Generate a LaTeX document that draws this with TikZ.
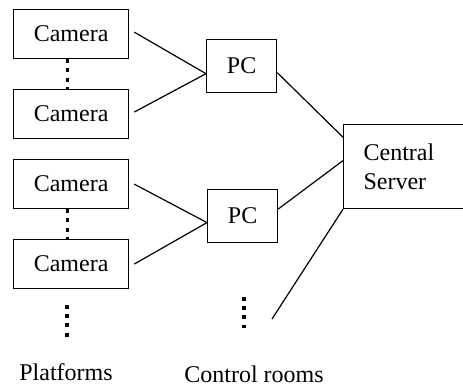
\documentclass[tikz,border=0pt]{standalone}
\usepackage{fontspec}
\setmainfont{Liberation Serif}
\usetikzlibrary{calc}
\begin{document}
\begin{tikzpicture}[x=0.5pt,y=-0.5pt,
  every node/.style={font=\fontsize{12}{14.5}\selectfont},
  cambox/.style={draw,line width=0.6pt,minimum width=57.5pt,minimum height=24.5pt,inner sep=0pt},
  pcbox/.style={draw,line width=0.6pt,minimum width=35pt,minimum height=26.5pt,inner sep=0pt},
  link/.style={line width=0.6pt},
  dotsline/.style={line width=1.6pt,dash pattern=on 2pt off 2.6pt}]
\useasboundingbox (0,0) rectangle (463,385);
\clip (0,0) rectangle (463,385);
\node[cambox,anchor=north west] (cam1) at (13,9) {Camera};
\node[cambox,anchor=north west] (cam2) at (13,89) {Camera};
\node[cambox,anchor=north west] (cam3) at (13,159) {Camera};
\node[cambox,anchor=north west] (cam4) at (13,239) {Camera};
\node[pcbox,anchor=north west] (pc1) at (206,39) {PC};
\node[pcbox,anchor=north west] (pc2) at (207,189) {PC};
\node[draw,line width=0.6pt,anchor=north west,minimum height=42pt,
  text width=50pt,inner xsep=10pt,inner ysep=0pt,align=left] (server) at (343,124) {Central\\Server};
\node (plat) at (66,372) {Platforms};
\node (ctrl) at (254,374) {Control rooms};
\coordinate (free) at (272,319);
% camera -> PC links
\coordinate (pc1in) at ($(pc1.north west)!0.64!(pc1.south west)$);
\coordinate (pc2in) at ($(pc2.north west)!0.62!(pc2.south west)$);
\draw[link] ([xshift=2.5pt,yshift=1pt]cam1.east) -- (pc1in);
\draw[link] ([xshift=2.5pt,yshift=1pt]cam2.east) -- (pc1in);
\draw[link] ([xshift=2.5pt,yshift=0pt]cam3.east) -- (pc2in);
\draw[link] ([xshift=2.5pt,yshift=0pt]cam4.east) -- (pc2in);
% PC -> server
\draw[link] ($(pc1.north east)!0.62!(pc1.south east)$) -- ($(server.north west)!0.155!(server.south west)$);
\draw[link] ($(pc2.north east)!0.37!(pc2.south east)$) -- ($(server.north west)!0.43!(server.south west)$);
\draw[link] (server.south west) -- (free);
% dots
\draw[dotsline] ([xshift=-1.75pt]cam1.south) -- ([xshift=-1.75pt]cam2.north);
\draw[dotsline] ([xshift=-1.75pt]cam3.south) -- ([xshift=-1.75pt]cam4.north);
\coordinate (pd1) at (67,305);
\coordinate (pd2) at (67,338);
\draw[dotsline] (pd1) -- (pd2);
\coordinate (cd1) at (244,297);
\coordinate (cd2) at (244,328);
\draw[dotsline] (cd1) -- (cd2);
\end{tikzpicture}
\end{document}
